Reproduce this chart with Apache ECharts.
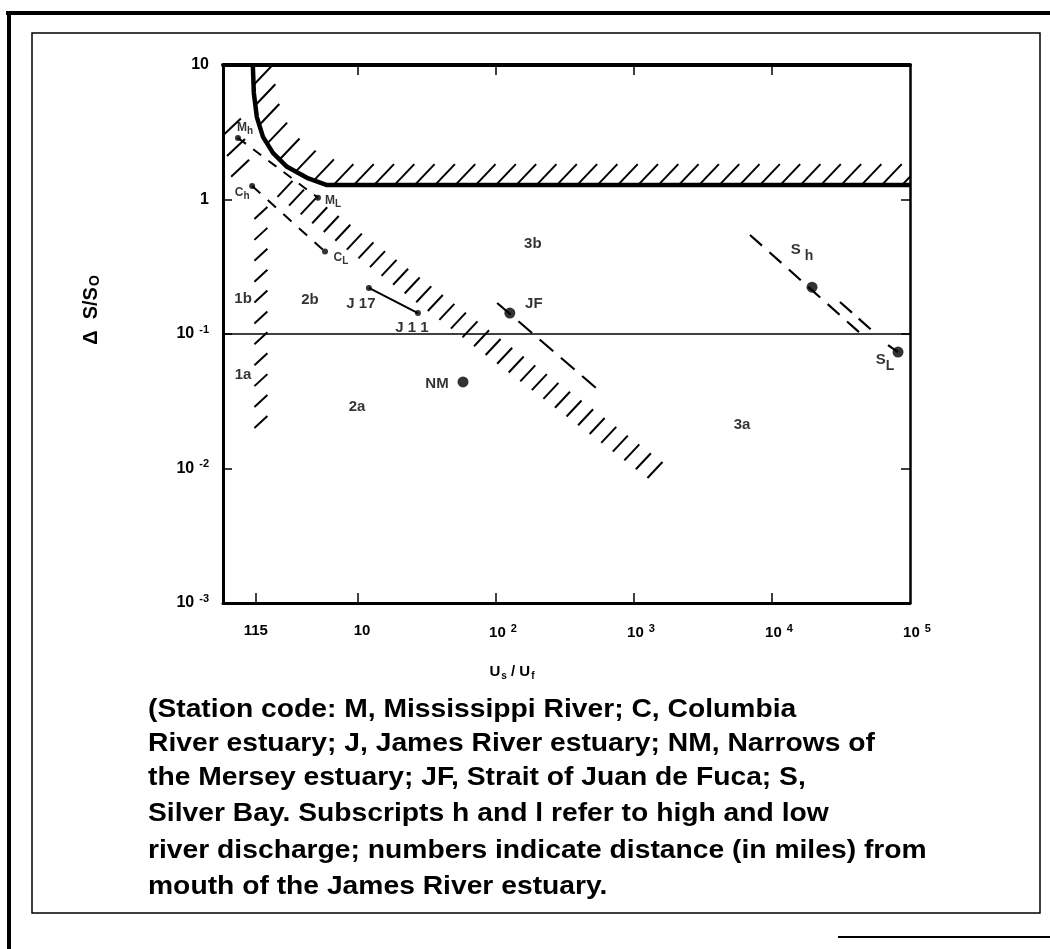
<!DOCTYPE html>
<html><head><meta charset="utf-8">
<script src="https://cdn.jsdelivr.net/npm/echarts@6/dist/echarts.min.js"></script>
<style>html,body{margin:0;padding:0;background:#fff}#c{width:1050px;height:949px}</style>
</head><body><div id="c"></div>
<script>
// ---------------- data (real values, log-log chart) ----------------
const X_RANGE = [1.052, 100000];
const Y_RANGE = [0.001, 10];
const xTickValues = [1.82, 10, 100, 1000, 10000, 100000];
const xTickLabels = ['115', '{q|}10', '{p|}10{sup|2}', '{p|}10{sup|3}', '{p|}10{sup|4}', '{p|}10{sup|5}'];
const yTickValues = [0.001, 0.01, 0.1, 1, 10];
const yTickLabels = ['10{sup|-3}', '10{sup|-2}', '10{sup|-1}', '1', '10'];

// upper boundary of the regime diagram (thick line)
const boundaryCurve = [[1.73,10],[1.76,6.2],[1.85,4.1],[2.05,2.92],[2.42,2.22],[3.06,1.75],[4.27,1.45],[5.96,1.28],[100000,1.28]];
// 2a/2b, 3a/3b division
const divisionLine = [[1.052,0.1],[100000,0.1]];
// hatched transition bands (centre / base lines)
const bandVertical = [[1.98,0.794],[1.98,0.0222]];
const bandCorner = [[1.22,3.46],[1.40,1.71]];
const bandDiagonal = [[2.96,1.20],[1419,0.00975]];

// station tracks
const mTrack = [[1.35,2.87],[5.13,1.03]];
const cTrack = [[1.71,1.26],[5.77,0.41]];
const jTrack = [[12.0,0.22],[27.2,0.143]];
const jfTrack = [[102,0.17],[586,0.0364]];
const sTrackA = [[6930,0.545],[43500,0.1016]];
const sTrackB = [[31100,0.173],[57700,0.0984]];
const sLTail = [[69300,0.0828],[81900,0.0734]];

const smallStations = ['Mh','ML','Ch','CL','J17','J11'];
const smallX = [1.35, 5.13, 1.71, 5.77, 12.0, 27.2];
const smallY = [2.87, 1.03, 1.26, 0.41, 0.22, 0.143];
const bigStations = ['JF','NM','Sh','SL'];
const bigX = [126, 57.7, 19500, 81900];
const bigY = [0.143, 0.044, 0.223, 0.0734];

const regionNames = ['1a','1b','2a','2b','3a','3b'];
const regionX = [1.47, 1.47, 9.84, 4.49, 6070, 185];
const regionY = [0.0495, 0.182, 0.0286, 0.179, 0.0210, 0.467];

const xTitle = '{u|U}{us|s}{u| / U}{us|f}';
const yTitle = '{d|Δ  S/S}{ds|O}';
const captionLines = [
  '(Station code: M, Mississippi River; C, Columbia',
  'River estuary; J, James River estuary; NM, Narrows of',
  'the Mersey estuary; JF, Strait of Juan de Fuca; S,',
  'Silver Bay. Subscripts h and l refer to high and low',
  'river discharge; numbers indicate distance (in miles) from',
  'mouth of the James River estuary.'
];

// ---------------- styles / layout ----------------
const FONT = '"Liberation Sans", Arial, Helvetica, sans-serif';
const L = v => Math.log10(v);
const P = arr => arr.map(p => [L(p[0]), L(p[1])]);

const stationText = {
  Mh: '{a|M}{as|h}', ML: '{a|M}{as|L}', Ch: '{a|C}{as|h}', CL: '{a|C}{as|L}',
  J17: '{b|J 17}', J11: '{b|J 1 1}', JF: '{b|JF}', NM: '{b|NM}', Sh: '{c|S}{cs| h}', SL: '{c|S}{cs|L}'
};
const stationOffset = {
  Mh: [7,-10], ML: [15,3], Ch: [-10,7], CL: [16,6], J17: [-8,16], J11: [-6,15],
  JF: [24,-9], NM: [-26,2], Sh: [-10,-37], SL: [-13,8]
};
const labelRich = {
  a: {fontFamily: FONT, fontWeight: 'bold', fontSize: 12, color: '#000'},
  as: {fontFamily: FONT, fontWeight: 'bold', fontSize: 10, color: '#000', padding: [7,0,0,0]},
  b: {fontFamily: FONT, fontWeight: 'bold', fontSize: 15, color: '#000'},
  c: {fontFamily: FONT, fontWeight: 'bold', fontSize: 15, color: '#000'},
  cs: {fontFamily: FONT, fontWeight: 'bold', fontSize: 14, color: '#000', padding: [12,0,0,0]}
};
const axisRich = {
  sup: {fontFamily: FONT, fontWeight: 'bold', fontSize: 11, color: '#000', padding: [0,0,9,5]},
  p: {width: 14}, q: {width: 8}
};

function lineSeries(data, width, type, z) {
  return {type: 'line', data: P(data), symbol: 'none', silent: true, z: z || 4,
    lineStyle: {color: '#000', width: width, type: type || 'solid', cap: 'butt'}};
}

function hatchSeries(path, cfg) {
  const pts = P(path);
  return {
    type: 'custom', coordinateSystem: 'cartesian2d', clip: true, silent: true, z: 3,
    data: pts,
    renderItem: function (params, api) {
      if (params.dataIndex !== 0) return null;
      const px = pts.map(p => api.coord(p));
      const seg = []; let total = 0;
      for (let i = 1; i < px.length; i++) {
        const d = Math.hypot(px[i][0]-px[i-1][0], px[i][1]-px[i-1][1]);
        seg.push(d); total += d;
      }
      const n = cfg.count;
      const step = n > 1 ? (total - cfg.start - cfg.end) / (n - 1) : 0;
      const children = [];
      for (let k = 0; k < n; k++) {
        let s = cfg.start + k * step, i = 0;
        while (i < seg.length - 1 && s > seg[i]) { s -= seg[i]; i++; }
        const t = seg[i] ? Math.min(s / seg[i], 1) : 0;
        const x = px[i][0] + (px[i+1][0] - px[i][0]) * t;
        const y = px[i][1] + (px[i+1][1] - px[i][1]) * t;
        children.push({type: 'line', shape: {
          x1: x + cfg.v[0]*cfg.a, y1: y + cfg.v[1]*cfg.a,
          x2: x + cfg.v[0]*cfg.b, y2: y + cfg.v[1]*cfg.b},
          style: {stroke: '#000', lineWidth: cfg.w, lineCap: 'butt'}});
      }
      return {type: 'group', children: children};
    }
  };
}

const lx = xTickValues.map(L), ly = yTickValues.map(L);
function idx(arr, v) { return arr.findIndex(a => Math.abs(a - v) < 1e-6); }

const chart = echarts.init(document.getElementById('c'), null, {renderer: 'canvas'});

const CAP_SIZE = 25, CAP_SCALE = 1.13, CAP_LEFT = 148;
const capY = [710, 744, 778, 814, 851, 887];
const captionGraphics = captionLines.map((t, i) => ({
  type: 'text', x: CAP_LEFT, y: capY[i], scaleX: CAP_SCALE,
  style: {text: t, fontFamily: FONT, fontWeight: 'bold', fontSize: CAP_SIZE, fill: '#000', verticalAlign: 'middle'}
}));

const option = {
  animation: false,
  backgroundColor: '#fff',
  grid: {left: 223, top: 65, width: 687, height: 538, containLabel: false},
  xAxis: [
    {type: 'value', position: 'bottom', min: L(X_RANGE[0]), max: L(X_RANGE[1]),
     axisLine: {show: true, onZero: false, lineStyle: {color: '#000', width: 3}},
     axisTick: {show: true, inside: true, length: 10, customValues: lx.slice(0,5), lineStyle: {color: '#000', width: 1.5}},
     axisLabel: {show: true, customValues: lx, margin: 20, color: '#000', fontFamily: FONT, fontWeight: 'bold', fontSize: 15,
       formatter: v => xTickLabels[idx(lx, v)], rich: axisRich},
     splitLine: {show: false}},
    {type: 'value', position: 'top', min: L(X_RANGE[0]), max: L(X_RANGE[1]),
     axisLine: {show: true, onZero: false, lineStyle: {color: '#000', width: 4}},
     axisTick: {show: true, inside: true, length: 10, customValues: lx.slice(1,5), lineStyle: {color: '#000', width: 1.5}},
     axisLabel: {show: false}, splitLine: {show: false}}
  ],
  yAxis: [
    {type: 'value', position: 'left', min: L(Y_RANGE[0]), max: L(Y_RANGE[1]),
     axisLine: {show: true, onZero: false, lineStyle: {color: '#000', width: 3}},
     axisTick: {show: true, inside: true, length: 9, customValues: ly.slice(1,4), lineStyle: {color: '#000', width: 1.5}},
     axisLabel: {show: true, customValues: ly, margin: 14, color: '#000', fontFamily: FONT, fontWeight: 'bold', fontSize: 16,
       formatter: v => yTickLabels[idx(ly, v)], rich: axisRich},
     splitLine: {show: false}},
    {type: 'value', position: 'right', min: L(Y_RANGE[0]), max: L(Y_RANGE[1]),
     axisLine: {show: true, onZero: false, lineStyle: {color: '#000', width: 2.5}},
     axisTick: {show: true, inside: true, length: 9, customValues: ly.slice(1,4), lineStyle: {color: '#000', width: 1.5}},
     axisLabel: {show: false}, splitLine: {show: false}}
  ],
  series: [
    hatchSeries(boundaryCurve, {count: 36, start: 20, end: 8, v: [20, -21], a: 0, b: 1, w: 2}),
    hatchSeries(bandVertical, {count: 11, start: 0, end: 0, v: [13, -12], a: -0.5, b: 0.5, w: 2}),
    hatchSeries(bandCorner, {count: 3, start: 0, end: 0, v: [18, -17], a: -0.5, b: 0.5, w: 2}),
    hatchSeries(bandDiagonal, {count: 33, start: 0, end: 0, v: [15, -16], a: -0.5, b: 0.5, w: 2}),
    lineSeries(boundaryCurve, 4.5, 'solid', 5),
    lineSeries(divisionLine, 1.6),
    lineSeries(mTrack, 2, [10, 9]),
    lineSeries(cTrack, 2, [11, 10]),
    lineSeries(jTrack, 2),
    lineSeries(jfTrack, 2.2, [18, 10]),
    lineSeries(sTrackA, 2.2, [16, 10]),
    lineSeries(sTrackB, 2.2, [16, 9]),
    lineSeries(sLTail, 2.2),
    {type: 'scatter', symbol: 'circle', symbolSize: 6, silent: true, z: 6,
     itemStyle: {color: '#000'},
     data: smallStations.map((s, i) => ({value: [L(smallX[i]), L(smallY[i])],
       label: {show: true, position: 'inside', offset: stationOffset[s], formatter: stationText[s], rich: labelRich}}))},
    {type: 'scatter', symbol: 'circle', symbolSize: 11, silent: true, z: 6,
     itemStyle: {color: '#000'},
     data: bigStations.map((s, i) => ({value: [L(bigX[i]), L(bigY[i])],
       label: {show: true, position: 'inside', offset: stationOffset[s], formatter: stationText[s], rich: labelRich}}))},
    {type: 'scatter', symbolSize: 0, silent: true, z: 6,
     data: regionNames.map((r, i) => ({value: [L(regionX[i]), L(regionY[i])], name: r})),
     label: {show: true, position: 'inside', formatter: p => p.name, color: '#000',
             fontFamily: FONT, fontWeight: 'bold', fontSize: 15}}
  ],
  graphic: [
    {type: 'line', shape: {x1: 6, y1: 13, x2: 1050, y2: 13}, style: {stroke: '#000', lineWidth: 4}},
    {type: 'line', shape: {x1: 9, y1: 11, x2: 9, y2: 949}, style: {stroke: '#000', lineWidth: 4}},
    {type: 'rect', shape: {x: 32, y: 33, width: 1008, height: 880}, style: {fill: null, stroke: '#000', lineWidth: 1.5}},
    {type: 'line', shape: {x1: 838, y1: 937, x2: 1050, y2: 937}, style: {stroke: '#000', lineWidth: 2}},
    {type: 'text', x: 512, y: 672,
     style: {text: xTitle, align: 'center', verticalAlign: 'middle',
       rich: {u: {fontFamily: FONT, fontWeight: 'bold', fontSize: 15, fill: '#000'},
              us: {fontFamily: FONT, fontWeight: 'bold', fontSize: 10, fill: '#000', padding: [8,0,0,1]}}}},
    {type: 'text', x: 91, y: 310, rotation: Math.PI / 2,
     style: {text: yTitle, align: 'center', verticalAlign: 'middle',
       rich: {d: {fontFamily: FONT, fontWeight: 'bold', fontSize: 20, fill: '#000'},
              ds: {fontFamily: FONT, fontWeight: 'bold', fontSize: 14, fill: '#000', padding: [9,0,0,1]}}}}
  ].concat(captionGraphics)
};
chart.setOption(option);
</script>
</body></html>
